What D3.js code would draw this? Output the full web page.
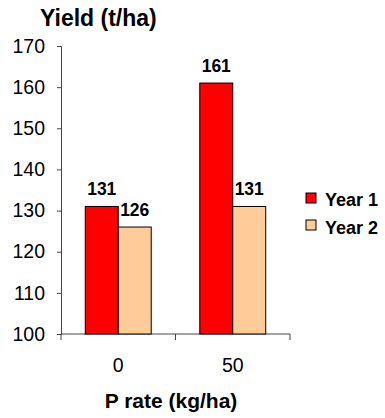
<!DOCTYPE html>
<html><head><meta charset="utf-8">
<script src="https://cdn.jsdelivr.net/npm/d3@7"></script>
<style>body{margin:0;background:#fff}svg{display:block;font-family:"Liberation Sans",Arial,sans-serif}</style>
</head><body><svg id="c" width="385" height="418"></svg>
<script>
const categories = ["0", "50"];
const seriesNames = ["Year 1", "Year 2"];
const year1 = [131, 161];
const year2 = [126, 131];
const yTicks = [100, 110, 120, 130, 140, 150, 160, 170];
const colors = ["#ff0000", "#ffcc99"];

const svg = d3.select("#c");
const x = d3.scaleBand().domain(categories).range([61, 290]).paddingInner(0.424).paddingOuter(0.212);
const xs = d3.scaleBand().domain(seriesNames).range([0, x.bandwidth()]);
const y = d3.scaleLinear().domain([100, 170]).range([334, 46]);

// y axis
const ya = svg.append("g").attr("transform", "translate(61,0)")
  .call(d3.axisLeft(y).tickValues(yTicks).tickSize(4).tickPadding(12).tickFormat(d3.format("d")));
ya.selectAll("path,line").attr("stroke", "#444");
ya.selectAll("text").attr("font-size", 19.5).attr("fill", "#000").attr("font-family", "Liberation Sans, Arial");

// x axis with boundary ticks
const xa = svg.append("g").attr("transform", "translate(0,334)");
xa.append("line").attr("x1", 61).attr("x2", 290).attr("y1", 0).attr("y2", 0).attr("stroke", "#444");
const bounds = [61].concat(categories.map(c => x(c) + x.bandwidth() + x.step() * x.paddingInner() / 2));
bounds[bounds.length - 1] = 290;
xa.selectAll("line.t").data(bounds).join("line").attr("class", "t")
  .attr("x1", d => d).attr("x2", d => d).attr("y1", 0).attr("y2", 6).attr("stroke", "#444");
xa.selectAll("text").data(categories).join("text")
  .attr("x", d => x(d) + x.bandwidth() / 2).attr("y", 38)
  .attr("text-anchor", "middle").attr("font-size", 19.5).text(d => d);

// bars
const series = [year1, year2];
series.forEach((vals, si) => {
  const g = svg.append("g");
  g.selectAll("rect").data(vals).join("rect")
    .attr("x", (d, i) => x(categories[i]) + xs(seriesNames[si]))
    .attr("y", d => y(d))
    .attr("width", xs.bandwidth())
    .attr("height", d => y(100) - y(d))
    .attr("fill", colors[si]).attr("stroke", "#000").attr("stroke-width", 1);
  g.selectAll("text").data(vals).join("text")
    .attr("x", (d, i) => x(categories[i]) + xs(seriesNames[si]) + xs.bandwidth() / 2)
    .attr("y", d => y(d) - 11)
    .attr("text-anchor", "middle").attr("font-size", 17.5).attr("font-weight", "bold")
    .text(d => d);
});

// titles
svg.append("text").attr("x", 40).attr("y", 26).attr("font-size", 23).attr("font-weight", "bold").text("Yield (t/ha)");
svg.append("text").attr("x", 171).attr("y", 408).attr("text-anchor", "middle").attr("font-size", 21).attr("font-weight", "bold").text("P rate (kg/ha)");

// legend
const lg = svg.append("g").attr("transform", "translate(306,193)");
seriesNames.forEach((s, i) => {
  lg.append("rect").attr("x", 0).attr("y", i * 27).attr("width", 10).attr("height", 10)
    .attr("fill", colors[i]).attr("stroke", "#000").attr("stroke-width", 1);
  lg.append("text").attr("x", 19).attr("y", i * 28 + 13).attr("font-size", 18).attr("font-weight", "bold").text(s);
});
</script></body></html>
